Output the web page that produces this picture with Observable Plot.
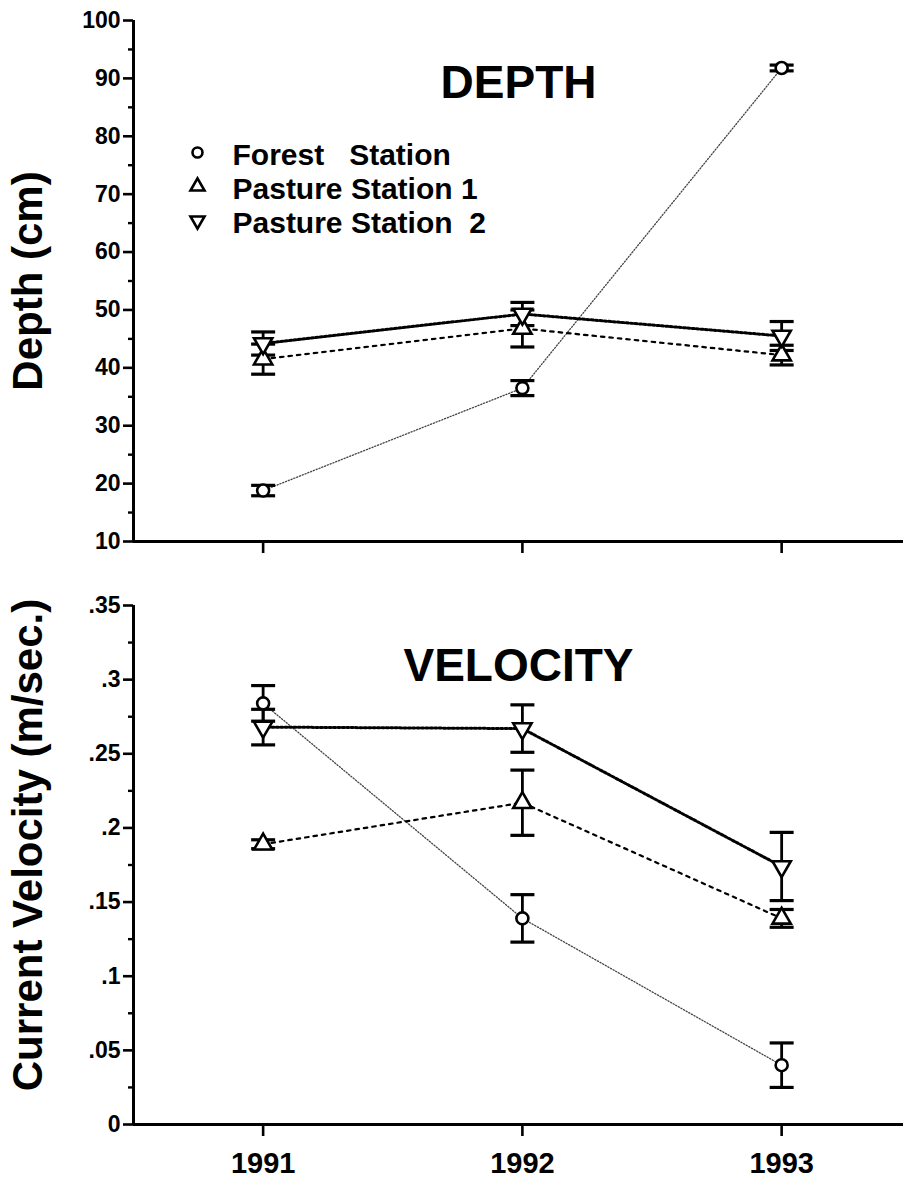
<!DOCTYPE html>
<html><head><meta charset="utf-8">
<script src="https://cdn.jsdelivr.net/npm/d3@7"></script>
<script src="https://cdn.jsdelivr.net/npm/@observablehq/plot@0.6"></script>
<style>
body{margin:0;background:#fff;}
#chart svg{display:block;}
#chart svg text{white-space:pre;}
</style></head><body><div id="chart"></div>
<script>
// ---- data ----
const years = [1991, 1992, 1993];
const yearLabels = ["1991", "1992", "1993"];
const stations = ["Forest   Station", "Pasture Station 1", "Pasture Station  2"];

const depthForest = [18.8, 36.5, 91.8];
const depthForestErr = [0.9, 1.3, 0.5];
const depthPasture1 = [41.5, 46.8, 42.2];
const depthPasture1Err = [2.6, 3.2, 1.7];
const depthPasture2 = [44.2, 49.3, 45.5];
const depthPasture2Err = [2.0, 2.0, 2.5];

const velForest = [0.284, 0.139, 0.040];
const velForestErr = [0.012, 0.016, 0.015];
const velPasture1 = [0.189, 0.217, 0.139];
const velPasture1Err = [0.003, 0.022, 0.006];
const velPasture2 = [0.268, 0.267, 0.174];
const velPasture2Err = [0.012, 0.016, 0.023];

const depthTicks = [10, 20, 30, 40, 50, 60, 70, 80, 90, 100];
const depthMinor = [15, 25, 35, 45, 55, 65, 75, 85, 95];
const velTicks = [0, 0.05, 0.1, 0.15, 0.2, 0.25, 0.3, 0.35];
const velTickLabels = ["0", ".05", ".1", ".15", ".2", ".25", ".3", ".35"];
const velMinor = [0.025, 0.075, 0.125, 0.175, 0.225, 0.275, 0.325];

// ---- helpers ----
const FONT = "'Liberation Sans', Arial, Helvetica, sans-serif";
const sqrt3 = Math.sqrt(3);
const triangleDown = {
  draw(ctx, size) {
    const y = -Math.sqrt(size / (sqrt3 * 3));
    ctx.moveTo(0, -y * 2);
    ctx.lineTo(-sqrt3 * y, y);
    ctx.lineTo(sqrt3 * y, y);
    ctx.closePath();
  }
};
const capSymbol = { draw(ctx) { ctx.moveTo(-12, 0); ctx.lineTo(12, 0); } };
const symbols = ["circle", "triangle", triangleDown];
const lineStyles = [
  {stroke: "#444", strokeWidth: 1.3, strokeDasharray: "1.2,1.8"},
  {stroke: "#000", strokeWidth: 2.2, strokeDasharray: "3.5,5"},
  {stroke: "#000", strokeWidth: 3, strokeDasharray: "2.2,2.2"}
];

function rows(series, errs) {
  const out = [];
  series.forEach((vals, s) => vals.forEach((v, i) => {
    out.push({station: stations[s], s, year: years[i], value: v, lo: v - errs[s][i], hi: v + errs[s][i]});
  }));
  return out;
}

const xDomain = [1990.5, 1993.47];

function panel({data, yDomain, ticks, tickLabels, minor, title, titleDy, ylabel, ylabelDy, height, marginTop, marginBottom, showYears, legend}) {
  const marks = [];
  for (let s = 0; s < 3; s++) {
    marks.push(Plot.line(data.filter(d => d.s === s), {x: "year", y: "value", ...lineStyles[s]}));
  }
  marks.push(Plot.ruleX(data, {x: "year", y1: "lo", y2: "hi", stroke: "#000", strokeWidth: 2.8}));
  marks.push(Plot.dot(data, {x: "year", y: "hi", symbol: capSymbol, r: 5, stroke: "#000", strokeWidth: 3.2, fill: "none"}));
  marks.push(Plot.dot(data, {x: "year", y: "lo", symbol: capSymbol, r: 5, stroke: "#000", strokeWidth: 3.2, fill: "none"}));
  for (let s = 0; s < 3; s++) {
    marks.push(Plot.dot(data.filter(d => d.s === s), {x: "year", y: "value", symbol: symbols[s], r: s === 0 ? 6 : 6.8, fill: "white", stroke: "#000", strokeWidth: 2.6}));
  }
  marks.push(Plot.ruleY([yDomain[0]], {stroke: "#000", strokeWidth: 3}));
  marks.push(Plot.ruleX([xDomain[0]], {stroke: "#000", strokeWidth: 3}));
  marks.push(Plot.axisY(ticks, {tickSize: 10, tickPadding: 3, strokeWidth: 2.6, fontSize: 23, fontWeight: "bold", label: null,
    tickFormat: d => tickLabels[ticks.indexOf(d)]}));
  marks.push(Plot.axisY(minor, {tickSize: 5, strokeWidth: 2.4, label: null, tickFormat: () => ""}));
  marks.push(Plot.axisX(years, {tickSize: 12, tickPadding: 16, strokeWidth: 2.6, fontSize: 29, fontWeight: "bold", label: null,
    tickFormat: d => showYears ? yearLabels[years.indexOf(d)] : ""}));
  marks.push(Plot.text([title], {frameAnchor: "top", dy: titleDy, fontSize: 46, fontWeight: "bold"}));
  marks.push(Plot.text([ylabel], {frameAnchor: "left", textAnchor: "middle", dx: -105, dy: ylabelDy, rotate: -90, fontSize: 42, fontWeight: "bold"}));
  if (legend) {
    stations.forEach((name, s) => {
      marks.push(Plot.dot([name], {frameAnchor: "top-left", dx: 64, dy: 132 + s * 34, symbol: symbols[s], r: s === 0 ? 5 : 5.2, fill: "white", stroke: "#000", strokeWidth: 2.6}));
      marks.push(Plot.text([name], {frameAnchor: "top-left", lineAnchor: "middle", dx: 99, dy: 135 + s * 34, textAnchor: "start", fontSize: 30, fontWeight: "bold"}));
    });
  }
  return Plot.plot({
    width: 903, height, marginLeft: 133, marginRight: 0, marginTop, marginBottom,
    style: {fontFamily: FONT, color: "#000", background: "#fff", overflow: "visible"},
    x: {domain: xDomain, axis: null},
    y: {domain: yDomain, axis: null},
    marks
  });
}

const depthData = rows([depthForest, depthPasture1, depthPasture2], [depthForestErr, depthPasture1Err, depthPasture2Err]);
const velData = rows([velForest, velPasture1, velPasture2], [velForestErr, velPasture1Err, velPasture2Err]);

const depthChart = panel({data: depthData, yDomain: [10, 100], ticks: depthTicks, tickLabels: depthTicks.map(String), minor: depthMinor,
  title: "DEPTH", titleDy: 45, ylabel: "Depth (cm)", ylabelDy: 0, height: 580, marginTop: 20, marginBottom: 39, showYears: false, legend: true});
const velChart = panel({data: velData, yDomain: [0, 0.35], ticks: velTicks, tickLabels: velTickLabels, minor: velMinor,
  title: "VELOCITY", titleDy: 43, ylabel: "Current Velocity (m/sec.)", ylabelDy: -20, height: 611, marginTop: 25, marginBottom: 67, showYears: true, legend: false});

const el = document.getElementById("chart");
el.appendChild(depthChart);
el.appendChild(velChart);
</script></body></html>
